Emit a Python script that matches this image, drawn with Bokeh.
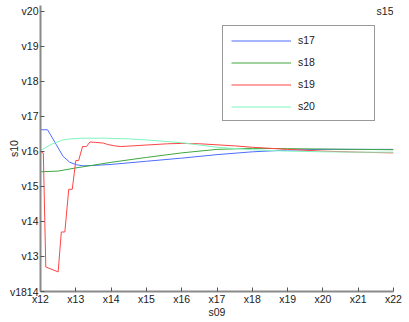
from bokeh.plotting import figure
from bokeh.models import Range1d, FixedTicker, Legend, LegendItem, Label
from bokeh.embed import file_html
from bokeh.resources import INLINE

# ---- data ----
x_ticks = [12, 13, 14, 15, 16, 17, 18, 19, 20, 21, 22]
x_tick_labels = ["x12", "x13", "x14", "x15", "x16", "x17", "x18", "x19", "x20", "x21", "x22"]
y_ticks = [12, 13, 14, 15, 16, 17, 18, 19, 20]
y_tick_labels = ["v1814", "v13", "v14", "v15", "v16", "v17", "v18", "v19", "v20"]
title_text = "s15"

series_names = ["s17", "s18", "s19", "s20"]

blue_x = [12.0, 12.2, 12.3, 12.45, 12.64, 12.83, 13.02, 13.2, 13.5, 14.0, 15.0, 16.0, 17.0, 18.0, 19.0, 20.0, 21.0, 22.0]
blue_y = [16.62, 16.62, 16.45, 16.19, 15.86, 15.69, 15.62, 15.59, 15.6, 15.63, 15.72, 15.81, 15.91, 15.99, 16.04, 16.06, 16.06, 16.06]

green_x = [12.0, 12.5, 13.0, 13.5, 14.0, 15.0, 16.0, 17.0, 18.0, 19.0, 20.0, 21.0, 22.0]
green_y = [15.42, 15.44, 15.53, 15.61, 15.69, 15.83, 15.96, 16.06, 16.09, 16.08, 16.07, 16.06, 16.05]

red_x = [12.0, 12.08, 12.15, 12.5, 12.59, 12.69, 12.8, 12.9, 13.0, 13.08, 13.19, 13.3, 13.4, 13.55,
         13.78, 13.9, 14.1, 14.27, 14.6, 15.1, 15.6, 16.0, 16.5, 17.0, 17.5, 18.0, 18.5, 19.0, 20.0, 21.0, 22.0]
red_y = [16.0, 15.95, 12.70, 12.56, 13.70, 13.70, 14.92, 14.92, 15.74, 15.74, 16.14, 16.14, 16.27, 16.26,
         16.24, 16.2, 16.16, 16.14, 16.16, 16.19, 16.22, 16.23, 16.22, 16.19, 16.16, 16.12, 16.09, 16.06, 16.01, 15.98, 15.96]

cyan_x = [12.0, 12.3, 12.6, 12.83, 13.2, 13.8, 14.5, 15.0, 16.0, 17.0, 18.0, 19.0, 20.0, 21.0, 22.0]
cyan_y = [16.03, 16.2, 16.32, 16.36, 16.38, 16.38, 16.36, 16.33, 16.25, 16.12, 16.05, 16.01, 15.99, 15.98, 15.98]

colors = ["#4d6dff", "#3fa83f", "#ff4444", "#7ff5c0"]

FONT = "Liberation Sans"
FS = "10.5px"
TXT = "#222222"

p = figure(width=409, height=322, output_backend="svg", toolbar_location=None,
           x_range=Range1d(12, 22), y_range=Range1d(12, 20.17),
           min_border_left=40, min_border_right=16, min_border_top=5, min_border_bottom=31)
p.outline_line_color = None
p.xgrid.visible = False
p.ygrid.visible = False
p.background_fill_color = "white"

p.xaxis.ticker = FixedTicker(ticks=x_ticks)
p.xaxis.major_label_overrides = {t: l for t, l in zip(x_ticks, x_tick_labels)}
p.yaxis.ticker = FixedTicker(ticks=y_ticks)
p.yaxis.major_label_overrides = {t: l for t, l in zip(y_ticks, y_tick_labels)}
p.xaxis.axis_label = "s09"
p.yaxis.axis_label = "s10"

for ax in (p.xaxis, p.yaxis):
    ax.axis_line_color = "#8a8a8a"
    ax.axis_line_width = 2
    ax.major_tick_line_color = "#555555"
    ax.major_tick_in = 4
    ax.major_tick_out = 0
    ax.minor_tick_line_color = None
    ax.major_label_text_font = FONT
    ax.major_label_text_font_size = FS
    ax.major_label_text_color = TXT
    ax.axis_label_text_font = FONT
    ax.axis_label_text_font_size = FS
    ax.axis_label_text_font_style = "normal"
    ax.axis_label_text_color = TXT
    ax.axis_label_standoff = -2
p.xaxis.major_label_standoff = 1
p.yaxis.major_label_standoff = 2
p.yaxis.axis_label_standoff = -13

xs = [blue_x, green_x, red_x, cyan_x]
ys = [blue_y, green_y, red_y, cyan_y]
renderers = []
for xx, yy, c in zip(xs, ys, colors):
    r = p.line(xx, yy, line_color=c, line_width=1)
    renderers.append(r)

legend = Legend(items=[LegendItem(label=n, renderers=[r]) for n, r in zip(series_names, renderers)],
                location=(182, 170))
legend.glyph_width = 60
legend.glyph_height = 11
legend.label_height = 11
legend.label_width = 68
legend.label_standoff = 7
legend.spacing = 10
legend.padding = 8
legend.margin = 0
legend.border_line_color = "#333333"
legend.border_line_width = 1
legend.background_fill_color = "white"
legend.background_fill_alpha = 1
legend.label_text_font = FONT
legend.label_text_font_size = FS
legend.label_text_color = TXT
p.add_layout(legend, "center")

p.add_layout(Label(x=22, y=20, text=title_text, text_align="right",
                   text_baseline="middle", text_font=FONT, text_font_size=FS, text_color=TXT))

open("out.html", "w").write(file_html(p, INLINE))
